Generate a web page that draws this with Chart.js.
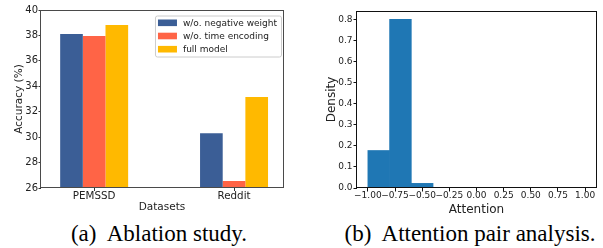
<!DOCTYPE html>
<html>
<head>
<meta charset="utf-8">
<script src="https://cdn.jsdelivr.net/npm/chart.js@4.4.1/dist/chart.umd.min.js"></script>
<style>
  body { margin: 0; background: #fff; width: 603px; height: 248px; overflow: hidden; position: relative; }
  canvas { position: absolute; top: 0; }
  #chartA { left: 0; }
  #chartB { left: 300px; }
  .cap { position: absolute; top: 222px; width: 300px; text-align: center; white-space: pre;
         font: 23px "Liberation Serif", "Times New Roman", serif; line-height: 23px; color: #000; }
</style>
</head>
<body>
<canvas id="chartA" width="300" height="220"></canvas>
<canvas id="chartB" width="303" height="220"></canvas>
<div class="cap" style="left:9px">(a)  Ablation study.</div>
<div class="cap" style="left:320px">(b)  Attention pair analysis.</div>
<script>
// data, ablation study
const dataSets = ["PEMSSD", "Reddit"];
const seriesNames = ["w/o. negative weight", "w/o. time encoding", "full model"];
const noNegWeight = [38.12, 30.3];
const noTimeEnc = [37.95, 26.55];
const fullModel = [38.82, 33.15];
const accTicks = [26, 28, 30, 32, 34, 36, 38, 40];

// data, attention histogram
const binCenters = [-0.9, -0.7, -0.5, -0.3, -0.1, 0.1, 0.3, 0.5, 0.7, 0.9];
const density = [0.178, 0.8, 0.022, 0, 0, 0, 0, 0, 0, 0];
const attnTicks = [-1, -0.75, -0.5, -0.25, 0, 0.25, 0.5, 0.75, 1];
const densTicks = [0, 0.1, 0.2, 0.3, 0.4, 0.5, 0.6, 0.7, 0.8];

Chart.defaults.font.family = "DejaVu Sans";
Chart.defaults.color = "#222";

// box round the plot, like matplotlib spines
const frame = {
  id: "frame",
  afterDatasetsDraw(chart, args, opts) {
    const { ctx, chartArea: a } = chart;
    ctx.save();
    ctx.strokeStyle = opts.color;
    ctx.lineWidth = 1;
    ctx.strokeRect(Math.round(a.left) - 0.5, Math.round(a.top) + 0.5,
      Math.round(a.right - a.left) + 1, Math.round(a.bottom - a.top) - 1);
    ctx.restore();
  }
};

// legend inside the upper right corner with a light frame
const boxLegend = {
  id: "boxLegend",
  afterDraw(chart) {
    const { ctx, chartArea: a } = chart;
    const sets = chart.data.datasets;
    ctx.save();
    ctx.font = "9px 'DejaVu Sans'";
    let tw = 0;
    sets.forEach(d => { tw = Math.max(tw, ctx.measureText(d.label).width); });
    const w = 3 + 19 + 6 + tw + 4;
    const right = a.right - 1.5;
    const left = right - w;
    const top = a.top + 6;
    const h = 41;
    ctx.beginPath();
    ctx.roundRect(left, top, w, h, 2);
    ctx.fillStyle = "rgba(255,255,255,0.8)";
    ctx.fill();
    ctx.strokeStyle = "#cccccc";
    ctx.lineWidth = 1;
    ctx.stroke();
    ctx.textBaseline = "middle";
    sets.forEach((d, i) => {
      const y = top + 6.8 + i * 13.2;
      ctx.fillStyle = d.backgroundColor;
      ctx.fillRect(left + 2.5, y - 3.3, 19, 6.6);
      ctx.fillStyle = "#222";
      ctx.fillText(d.label, left + 2.5 + 19 + 6, y + 0.5);
    });
    ctx.restore();
  }
};

const toPoints = vals => vals.map((v, i) => ({ x: i, y: v }));

new Chart(document.getElementById("chartA"), {
  type: "bar",
  data: {
    datasets: [
      { label: seriesNames[0], data: toPoints(noNegWeight), backgroundColor: "#3b5e96" },
      { label: seriesNames[1], data: toPoints(noTimeEnc), backgroundColor: "#ff6446" },
      { label: seriesNames[2], data: toPoints(fullModel), backgroundColor: "#ffb900" }
    ]
  },
  plugins: [frame, boxLegend],
  options: {
    responsive: false,
    animation: false,
    devicePixelRatio: 1,
    events: [],
    categoryPercentage: 0.486,
    barPercentage: 1,
    layout: { padding: { left: 0, top: 10, right: 17, bottom: 0 } },
    plugins: {
      legend: { display: false },
      tooltip: { enabled: false },
      frame: { color: "#4a4a4a" }
    },
    scales: {
      x: {
        type: "linear",
        min: -0.38,
        max: 1.35,
        offset: false,
        afterBuildTicks: s => { s.ticks = dataSets.map((n, i) => ({ value: i })); },
        afterFit: s => { s.height = 32; },
        grid: { display: true, drawOnChartArea: false, offset: false, tickLength: 3, color: "#333" },
        border: { display: false },
        ticks: {
          padding: 0.5,
          maxRotation: 0,
          autoSkip: false,
          font: { size: 10.3, lineHeight: 1 },
          callback: v => dataSets[v]
        },
        title: { display: true, text: "Datasets", font: { size: 10.5 }, padding: { bottom: 6.5, top: 0 } }
      },
      y: {
        min: 26,
        max: 40,
        afterBuildTicks: s => { s.ticks = accTicks.map(v => ({ value: v })); },
        afterFit: s => { s.width = 41; },
        grid: { display: true, drawOnChartArea: false, tickLength: 2.5, color: "#333" },
        border: { display: false },
        ticks: { padding: 0.5, font: { size: 10 } },
        title: { display: true, text: "Accuracy (%)", font: { size: 10.5, lineHeight: 1 }, padding: { top: 13.8, bottom: 0 } }
      }
    }
  }
});

new Chart(document.getElementById("chartB"), {
  type: "bar",
  data: {
    datasets: [
      { label: "Density", data: binCenters.map((c, i) => ({ x: c, y: density[i] })), backgroundColor: "#1f77b4" }
    ]
  },
  plugins: [frame],
  options: {
    responsive: false,
    animation: false,
    devicePixelRatio: 1,
    events: [],
    categoryPercentage: 1,
    barPercentage: 1,
    layout: { padding: { left: 0, top: 11, right: 7, bottom: 0 } },
    plugins: {
      legend: { display: false },
      tooltip: { enabled: false },
      frame: { color: "#111" }
    },
    scales: {
      x: {
        type: "linear",
        min: -1.1,
        max: 1.1,
        offset: false,
        afterBuildTicks: s => { s.ticks = attnTicks.map(v => ({ value: v })); },
        afterFit: s => { s.height = 32; },
        grid: { display: true, drawOnChartArea: false, offset: false, tickLength: 3.5, color: "#111" },
        border: { display: false },
        ticks: {
          padding: 0,
          maxRotation: 0,
          minRotation: 0,
          autoSkip: false,
          font: { size: 9, lineHeight: 1 },
          callback: v => (v < 0 ? "\u2212" : "") + Math.abs(v).toFixed(2)
        },
        title: { display: true, text: "Attention", font: { size: 12 }, padding: { bottom: 3.3, top: 0 } }
      },
      y: {
        min: 0,
        max: 0.84,
        afterBuildTicks: s => { s.ticks = densTicks.map(v => ({ value: v })); },
        afterFit: s => { s.width = 57; },
        grid: { display: true, drawOnChartArea: false, tickLength: 3.5, color: "#111" },
        border: { display: false },
        ticks: { padding: 1, font: { size: 9 }, callback: v => v.toFixed(1) },
        title: { display: true, text: "Density", font: { size: 12 }, padding: { top: 24.8, bottom: 0 } }
      }
    }
  }
});
</script>
</body>
</html>
